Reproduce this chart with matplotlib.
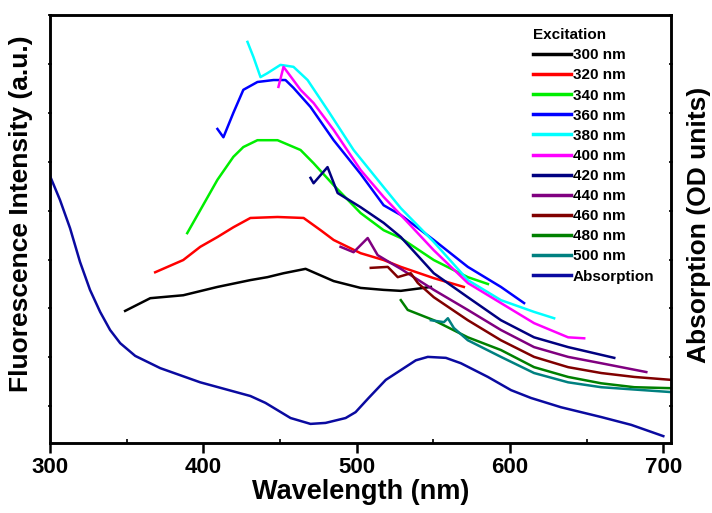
import numpy as np
import matplotlib.pyplot as plt

plt.rcParams['font.family'] = ['Liberation Sans', 'DejaVu Sans']
plt.rcParams['font.weight'] = 'bold'

# Emission spectra (wavelength nm, intensity a.u.)
wl_300 = [349.0, 365.4, 386.9, 409.2, 430.7, 441.8, 452.3, 466.7, 485.0, 502.6, 517.6, 528.8, 548.4]
em_300 = [2.95, 3.21, 3.27, 3.44, 3.58, 3.64, 3.72, 3.81, 3.56, 3.42, 3.38, 3.36, 3.44]

wl_320 = [368.6, 386.9, 398.0, 409.2, 419.6, 430.7, 448.4, 465.4, 476.5, 485.0, 502.6, 517.6, 528.8, 550.3, 569.9]
em_320 = [3.74, 3.99, 4.26, 4.46, 4.66, 4.85, 4.87, 4.85, 4.60, 4.40, 4.13, 3.99, 3.85, 3.62, 3.44]

wl_340 = [389.5, 398.0, 409.2, 419.6, 426.1, 435.3, 448.4, 463.4, 471.9, 485.0, 502.6, 517.6, 528.8, 550.3, 572.5, 585.6]
em_340 = [4.54, 5.01, 5.63, 6.10, 6.30, 6.44, 6.44, 6.24, 5.97, 5.52, 4.95, 4.60, 4.44, 3.99, 3.64, 3.50]

wl_360 = [409.2, 413.1, 419.6, 426.1, 435.3, 445.8, 453.6, 458.8, 469.9, 485.0, 502.6, 517.6, 528.8, 550.3, 572.5, 594.1, 609.2]
em_360 = [6.67, 6.50, 7.00, 7.47, 7.63, 7.67, 7.67, 7.51, 7.12, 6.44, 5.75, 5.11, 4.91, 4.40, 3.85, 3.44, 3.11]

wl_380 = [428.8, 432.7, 437.3, 441.8, 450.3, 458.8, 468.0, 481.0, 498.0, 517.6, 528.8, 550.3, 572.5, 594.1, 615.7, 628.8]
em_380 = [8.45, 8.14, 7.73, 7.81, 7.98, 7.94, 7.67, 7.06, 6.24, 5.48, 5.05, 4.36, 3.58, 3.17, 2.93, 2.80]

wl_400 = [449.0, 452.3, 463.4, 471.9, 485.0, 502.6, 517.6, 528.8, 550.3, 572.5, 594.1, 615.7, 637.9, 648.4]
em_400 = [7.53, 7.94, 7.47, 7.20, 6.65, 5.83, 5.28, 4.91, 4.19, 3.52, 3.11, 2.70, 2.41, 2.39]

wl_420 = [469.9, 471.9, 481.0, 487.6, 502.6, 517.6, 528.8, 550.3, 572.5, 594.1, 615.7, 637.9, 668.0]
em_420 = [5.67, 5.56, 5.89, 5.36, 5.07, 4.75, 4.46, 3.72, 3.23, 2.76, 2.41, 2.21, 1.99]

wl_440 = [489.5, 498.0, 507.2, 513.7, 522.2, 528.8, 550.3, 572.5, 594.1, 615.7, 637.9, 659.5, 688.9]
em_440 = [4.26, 4.15, 4.44, 4.09, 3.93, 3.81, 3.38, 2.97, 2.56, 2.21, 2.01, 1.88, 1.70]

wl_460 = [509.2, 520.3, 526.8, 535.3, 539.9, 550.3, 572.5, 594.1, 615.7, 637.9, 659.5, 681.1, 705.2]
em_460 = [3.83, 3.85, 3.64, 3.72, 3.52, 3.23, 2.76, 2.35, 2.01, 1.80, 1.68, 1.60, 1.54]

wl_480 = [528.8, 533.3, 550.3, 572.5, 594.1, 615.7, 637.9, 659.5, 681.1, 705.2]
em_480 = [3.17, 2.97, 2.76, 2.41, 2.15, 1.80, 1.60, 1.47, 1.39, 1.37]

wl_500 = [548.4, 556.9, 559.5, 563.4, 572.5, 594.1, 615.7, 637.9, 659.5, 705.2]
em_500 = [2.76, 2.72, 2.80, 2.60, 2.35, 2.01, 1.68, 1.49, 1.39, 1.29]

# Absorption spectrum
wl_abs = [300.0, 306.5, 313.1, 319.6, 326.1, 332.7, 339.2, 345.8, 355.6, 371.9, 398.0, 430.7, 440.5,
          456.9, 469.9, 479.7, 492.8, 499.3, 507.8, 519.0, 528.8, 538.6, 546.4, 558.2, 568.0,
          585.6, 600.7, 613.7, 633.3, 659.5, 679.1, 700.0]
od_abs = [5.71, 5.22, 4.64, 3.95, 3.38, 2.93, 2.56, 2.29, 2.03, 1.78, 1.49, 1.21, 1.07,
          0.76, 0.64, 0.66, 0.76, 0.88, 1.17, 1.54, 1.74, 1.94, 2.01, 1.99, 1.88,
          1.60, 1.33, 1.17, 0.98, 0.78, 0.62, 0.39]

series = [
    (wl_300, em_300, '300 nm', 'black'),
    (wl_320, em_320, '320 nm', 'red'),
    (wl_340, em_340, '340 nm', '#00ee00'),
    (wl_360, em_360, '360 nm', 'blue'),
    (wl_380, em_380, '380 nm', 'cyan'),
    (wl_400, em_400, '400 nm', 'magenta'),
    (wl_420, em_420, '420 nm', 'navy'),
    (wl_440, em_440, '440 nm', 'purple'),
    (wl_460, em_460, '460 nm', 'maroon'),
    (wl_480, em_480, '480 nm', 'green'),
    (wl_500, em_500, '500 nm', 'teal'),
]

fig = plt.figure(figsize=(7.12, 5.13), dpi=100)
ax = fig.add_axes([0.0702, 0.1365, 0.8722, 0.8343])
ax2 = ax.twinx()

handles = []
for wl, em, lab, col in series:
    h, = ax.plot(wl, em, color=col, lw=1.8, label=lab)
    handles.append(h)
h, = ax2.plot(wl_abs, od_abs, color='#0a0aa0', lw=1.8, label='Absorption')
handles.append(h)

for a in (ax, ax2):
    a.set_xlim(300, 705)
    a.set_ylim(0.25, 9)
    a.set_yticks(np.arange(1, 10))
    a.set_yticklabels([])
    a.tick_params(axis='y', direction='inout', length=3, width=1.2)
    for s in a.spines.values():
        s.set_linewidth(1.8)

ax.set_xticks([300, 400, 500, 600, 700])
ax.set_xticks([350, 450, 550, 650], minor=True)
ax.tick_params(axis='x', which='major', direction='out', length=7, width=1.8, labelsize=16, pad=3)
ax.tick_params(axis='x', which='minor', direction='in', length=3, width=1.2)

ax.set_xlabel('Wavelength (nm)', fontsize=19.5, fontweight='bold', labelpad=1)
ax.set_ylabel('Fluorescence Intensity (a.u.)', fontsize=19, fontweight='bold')
ax2.set_ylabel('Absorption (OD units)', fontsize=19, fontweight='bold')
ax.yaxis.set_label_coords(-0.027, 0.535)
ax2.yaxis.set_label_coords(1.026, 0.51)

leg = ax2.legend(handles=handles, title='Excitation', loc='upper left',
                 bbox_to_anchor=(0.777, 0.969), frameon=False, fontsize=11,
                 title_fontsize=11, handlelength=2.5, handletextpad=0.15,
                 labelspacing=0.4, borderpad=0, borderaxespad=0)
leg._legend_box.align = 'left'
for line in leg.get_lines():
    line.set_linewidth(2.5)

fig.savefig('out.png', dpi=100)
